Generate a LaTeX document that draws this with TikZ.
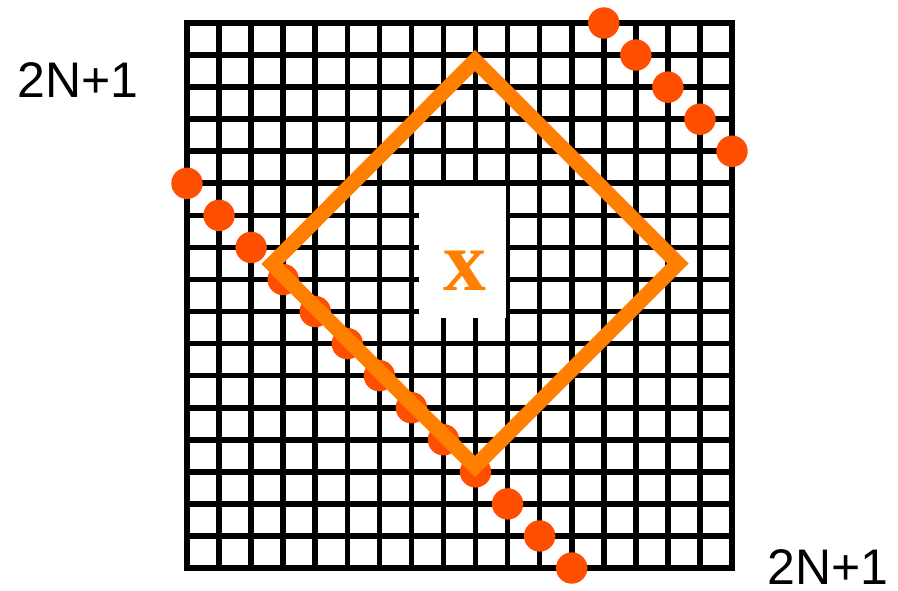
\documentclass[tikz,border=0pt]{standalone}
\usepackage{fontspec}
\setmainfont{Liberation Sans}
\newfontfamily\serifx{Liberation Serif}
\definecolor{lineorange}{HTML}{FF7F00}
\definecolor{dotorange}{HTML}{FF4E00}
\begin{document}
\begin{tikzpicture}[x=1pt,y=-1pt,
  gridline/.style={black, line width=5.6pt, line cap=rect},
  dotmark/.style={fill=dotorange, draw=none},
  diamondline/.style={draw=lineorange, line width=15pt, line join=miter},
  dimlabel/.style={font=\fontsize{50}{50}\selectfont, inner sep=0pt}]
\useasboundingbox (0,0) rectangle (898,591);
% grid 17 x 17 cells
\foreach \i in {0,...,17} {
  \draw[gridline] ({187+32.06*\i},23) -- ({187+32.06*\i},568);
  \draw[gridline] (187,{23+32.06*\i}) -- (732,{23+32.06*\i});
}
% white window
\fill[white] (419,186) rectangle (505.5,318);
% dots
\foreach \c/\r in {13/0,14/1,15/2,16/3,17/4,0/5,1/6,2/7,3/8,4/9,5/10,6/11,7/12,8/13,9/14,10/15,11/16,12/17} {
  \fill[dotmark] ({187+32.06*\c},{23+32.06*\r}) circle (15.7);
}
% diamond
\coordinate (dt) at (475,60.5);
\coordinate (dr) at (678,263.5);
\coordinate (db) at (475,466.5);
\coordinate (dl) at (272,264);
\draw[diamondline] (dt) -- (dr) -- (db) -- (dl) -- cycle;
% labels
\node[text=lineorange, font=\serifx\bfseries\fontsize{86}{86}\selectfont, inner sep=0pt] (xlabel) at (464.5,270.5) {x};
\node[dimlabel] (nleft) at (78,80) {2N+1};
\node[dimlabel] (nright) at (828,567) {2N+1};
\end{tikzpicture}
\end{document}
